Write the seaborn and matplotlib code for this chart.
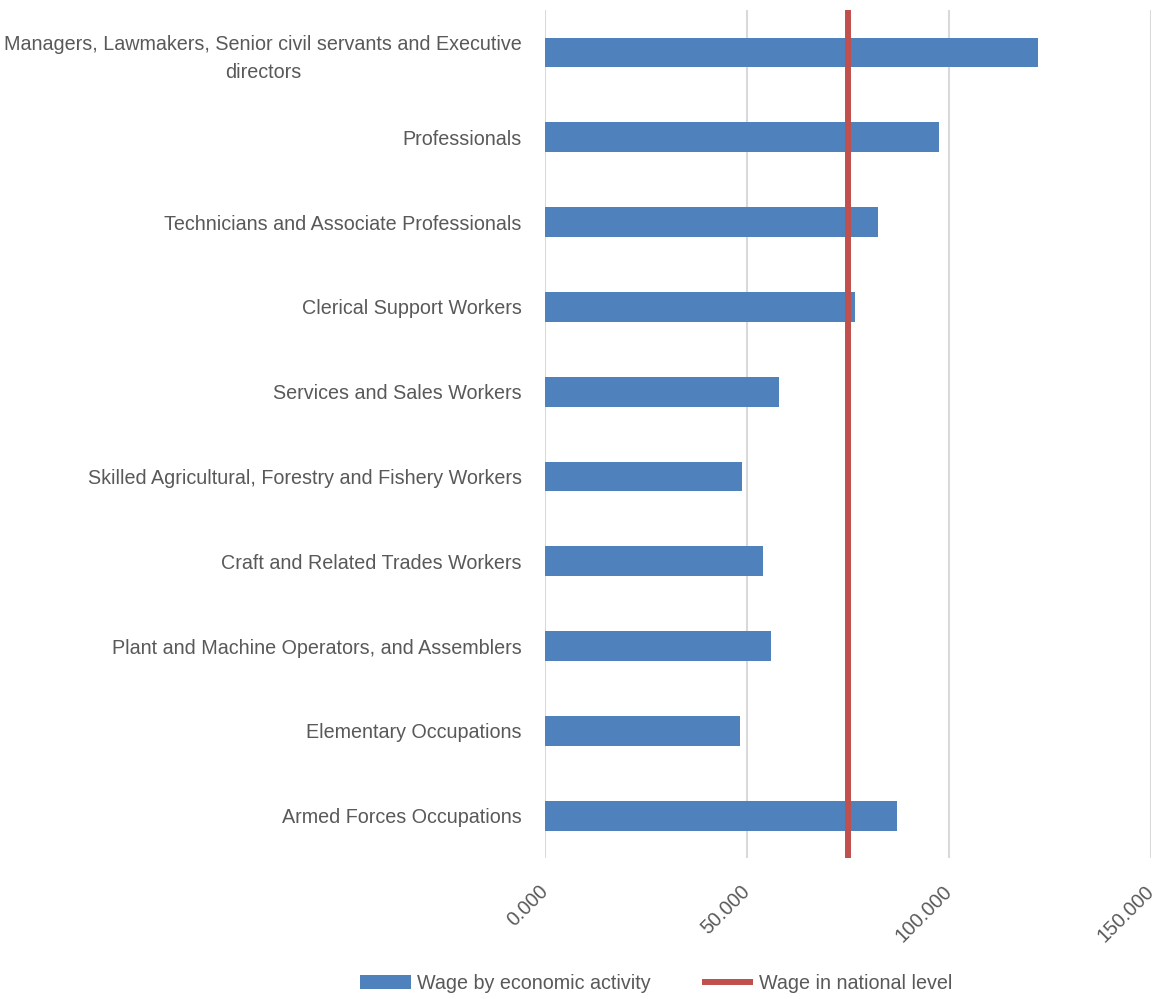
import matplotlib
matplotlib.use("Agg")
import matplotlib.pyplot as plt
import matplotlib.ticker as mticker
import pandas as pd
import seaborn as sns

occupations = [
    "Managers, Lawmakers, Senior civil servants and Executive\ndirectors",
    "Professionals",
    "Technicians and Associate Professionals",
    "Clerical Support Workers",
    "Services and Sales Workers",
    "Skilled Agricultural, Forestry and Fishery Workers",
    "Craft and Related Trades Workers",
    "Plant and Machine Operators, and Assemblers",
    "Elementary Occupations",
    "Armed Forces Occupations",
]
wages = [122100, 97500, 82400, 76800, 57800, 48600, 53900, 55900, 48300, 87200]
national_wage = 75000
x_ticks = [0, 50000, 100000, 150000]

sns.set_style("white")
plt.rcParams["font.family"] = ["Liberation Sans", "DejaVu Sans"]
FS = 14.2
GREY = "#595959"

df = pd.DataFrame({"Occupation": occupations, "Wage": wages})

fig = plt.figure(figsize=(11.61, 9.99), dpi=100)
ax = fig.add_axes([0.4697, 0.141, 0.5217, 0.849])

sns.barplot(data=df, y="Occupation", x="Wage", orient="h", color="#4f81bd",
            saturation=1, width=0.35, ax=ax, label="Wage by economic activity",
            linewidth=0)
ax.axvline(national_wage, color="#c0504d", lw=4.3, label="Wage in national level",
           zorder=3, solid_capstyle="butt")
if ax.legend_ is not None:
    ax.legend_.remove()

ax.set_xlim(0, 150000)
ax.set_xticks(x_ticks)
ax.xaxis.set_major_formatter(
    mticker.FuncFormatter(lambda v, p: f"{v:,.0f}".replace(",", ".") if v else "0.000"))
ax.grid(axis="x", color="#d9d9d9", lw=1.5)
ax.set_axisbelow(True)
for s in ax.spines.values():
    s.set_visible(False)
ax.set_xlabel("")
ax.set_ylabel("")
ax.tick_params(axis="both", length=0, colors=GREY, labelsize=FS)
ax.tick_params(axis="y", pad=17)
ax.tick_params(axis="x", pad=22)
for lab in ax.get_yticklabels():
    lab.set_multialignment("center")
    lab.set_linespacing(1.55)
for lab in ax.get_xticklabels():
    lab.set_rotation(45)
    lab.set_ha("right")
    lab.set_va("center")
    lab.set_rotation_mode("anchor")

handles, labels = ax.get_legend_handles_labels()
order = [labels.index("Wage by economic activity"), labels.index("Wage in national level")]
leg = fig.legend([handles[i] for i in order], [labels[i] for i in order],
                 loc="lower center", bbox_to_anchor=(0.565, -0.012), ncol=2,
                 frameon=False, fontsize=FS, handlelength=2.6, columnspacing=2.6,
                 handletextpad=0.3)
for t in leg.get_texts():
    t.set_color(GREY)

fig.savefig("out.png", dpi=100)
